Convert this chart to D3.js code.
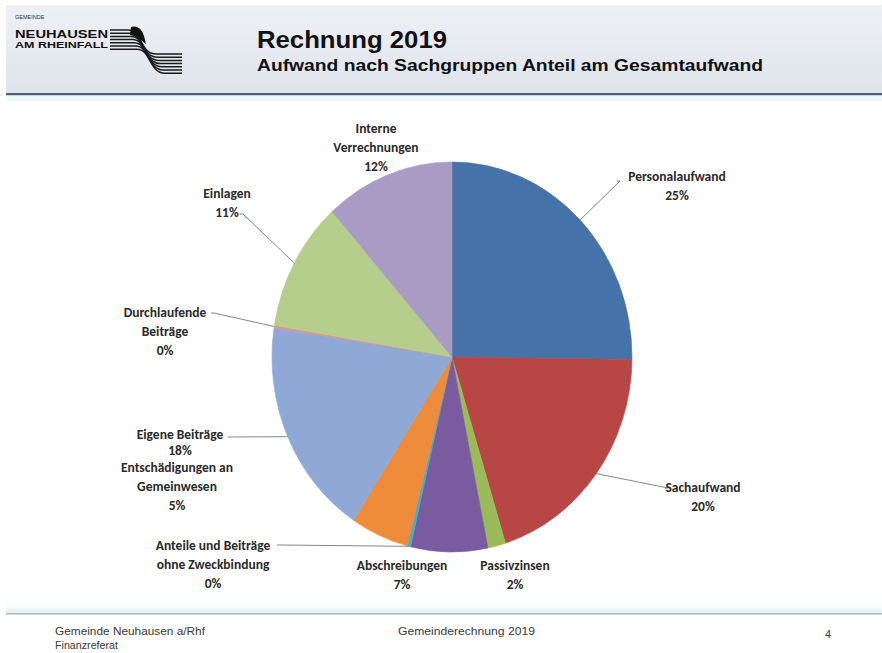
<!DOCTYPE html>
<html><head><meta charset="utf-8">
<script src="https://cdn.jsdelivr.net/npm/d3@7"></script>
<style>
html,body{margin:0;padding:0;background:#fff;}
svg{display:block;}
</style>
</head><body>
<script>
// ---- data ----
const categories = [
  "Personalaufwand",
  "Sachaufwand",
  "Passivzinsen",
  "Abschreibungen",
  "Anteile und Beiträge\nohne Zweckbindung",
  "Entschädigungen an\nGemeinwesen",
  "Eigene Beiträge",
  "Durchlaufende\nBeiträge",
  "Einlagen",
  "Interne\nVerrechnungen"
];
const shares = [25.2, 20.0, 1.6, 6.9, 0.3, 5.2, 18.2, 0.2, 10.8, 11.6];
const colors = ["#4672AA", "#B84644", "#9BBB59", "#7A5B9F", "#4BACC6", "#EF8C3C", "#8FA8D6", "#D99694", "#B6CE8B", "#A99BC4"];
const title = "Rechnung 2019";
const subtitle = "Aufwand nach Sachgruppen Anteil am Gesamtaufwand";
const footerLeft = ["Gemeinde Neuhausen a/Rhf", "Finanzreferat"];
const footerMid = "Gemeinderechnung 2019";
const pageNo = "4";

// ---- layout (positions of labels, not data) ----
const labelLayout = [
  {x: 677, y: 176, gap: 19, leader: [617, 181]},
  {x: 703, y: 487, gap: 19, leader: [665, 488]},
  {x: 515, y: 565, gap: 19},
  {x: 402, y: 565, gap: 19},
  {x: 213, y: 545, gap: 19, leader: [277, 545]},
  {x: 177, y: 467.5, gap: 19},
  {x: 180, y: 434, gap: 16, leader: [228, 437]},
  {x: 165, y: 312, gap: 19, leader: [211, 313]},
  {x: 227, y: 193, gap: 19, leader: [240, 214]},
  {x: 376, y: 128, gap: 19}
];

const W = 882, H = 653;
const svg = d3.select("body").append("svg").attr("width", W).attr("height", H);
const defs = svg.append("defs");
const hg = defs.append("linearGradient").attr("id","hdr").attr("x1",0).attr("y1",0).attr("x2",0).attr("y2",1);
hg.append("stop").attr("offset","0%").attr("stop-color","#eef0f4");
hg.append("stop").attr("offset","100%").attr("stop-color","#dfe4ec");
const fg = defs.append("linearGradient").attr("id","ftr").attr("x1",0).attr("y1",0).attr("x2",0).attr("y2",1);
fg.append("stop").attr("offset","0%").attr("stop-color","#ffffff");
fg.append("stop").attr("offset","100%").attr("stop-color","#e6eef6");

// header band
svg.append("rect").attr("x",6).attr("y",5).attr("width",W-6).attr("height",88).attr("fill","url(#hdr)");
svg.append("rect").attr("x",6).attr("y",93).attr("width",W-6).attr("height",2.5).attr("fill","#4d6477");
svg.append("rect").attr("x",6).attr("y",95.5).attr("width",W-6).attr("height",5).attr("fill","#eafafa");

// logo
const logo = svg.append("g");
logo.append("text").attr("x",15).attr("y",19).attr("font-family","Liberation Sans, Arial, sans-serif")
  .attr("font-size",5.5).attr("fill","#333").text("GEMEINDE");
logo.append("text").attr("x",15).attr("y",37.5).attr("font-family","Liberation Sans, Arial, sans-serif")
  .attr("font-weight","bold").attr("font-size",11).attr("fill","#111").attr("textLength",93).attr("lengthAdjust","spacingAndGlyphs").text("NEUHAUSEN");
logo.append("text").attr("x",15).attr("y",48).attr("font-family","Liberation Sans, Arial, sans-serif")
  .attr("font-weight","bold").attr("font-size",9).attr("fill","#111").attr("textLength",93).attr("lengthAdjust","spacingAndGlyphs").text("AM RHEINFALL");
for (let i = 0; i < 7; i++) {
  const y0 = 30 + i * 3.2;
  logo.append("path")
    .attr("d", `M110,${y0} H${128 + i*1.5} C${142 + i*1.5},${y0} ${140 + i*1.5},${y0 + 24} ${156 + i*1.5},${y0 + 24} H182`)
    .attr("fill","none").attr("stroke","#1b1b1b").attr("stroke-width",1.5);
}
logo.append("path").attr("d","M131,27 C137,25 142,29 144,36 L146,44 C141,40 136,36 130,35 Z").attr("fill","#111");

// titles
svg.append("text").attr("x",257).attr("y",48).attr("font-family","Liberation Sans, Arial, sans-serif")
  .attr("font-weight","bold").attr("font-size",23).attr("fill","#111")
  .attr("textLength",190).attr("lengthAdjust","spacingAndGlyphs").text(title);
svg.append("text").attr("x",257).attr("y",71).attr("font-family","Liberation Sans, Arial, sans-serif")
  .attr("font-weight","bold").attr("font-size",16).attr("fill","#111").attr("textLength",506).attr("lengthAdjust","spacingAndGlyphs").text(subtitle);

// pie
const cx = 452, cy = 357, r = 180, yScale = 195 / 180;
const pie = d3.pie().sort(null).value(d => d.v);
const data = categories.map((c, i) => ({name: c, v: shares[i], color: colors[i], lay: labelLayout[i]}));
const arcs = pie(data);
const arc = d3.arc().innerRadius(0).outerRadius(r);
const pg = svg.append("g").attr("transform", `translate(${cx},${cy}) scale(1,${yScale})`);
pg.selectAll("path").data(arcs).enter().append("path")
  .attr("d", arc).attr("fill", d => d.data.color)
  .attr("stroke", d => d.data.color).attr("stroke-width", 0.6);

// leaders
const fmt = d3.format(".0f");
arcs.forEach(a => {
  const L = a.data.lay;
  if (L.leader) {
    const mid = (a.startAngle + a.endAngle) / 2;
    const ex = cx + r * Math.sin(mid), ey = cy - r * yScale * Math.cos(mid);
    svg.append("path").attr("d", `M${L.leader[0]},${L.leader[1]} L${L.leader[0]+3},${L.leader[1]} L${ex},${ey}`)
      .attr("fill","none").attr("stroke","#777").attr("stroke-width",0.9);
  }
});
// labels
arcs.forEach(a => {
  const L = a.data.lay;
  const lines = a.data.name.split("\n").concat([fmt(a.data.v) + "%"]);
  const t = svg.append("text").attr("text-anchor","middle")
    .attr("font-family","Carlito, Lato, 'Open Sans', sans-serif").attr("font-weight","bold")
    .attr("font-size",13.5).attr("fill","#2a2a2a");
  lines.forEach((ln, k) => {
    t.append("tspan").attr("x", L.x).attr("y", L.y + 4.5 + k * L.gap).text(ln);
  });
});

// footer
svg.append("rect").attr("x",6).attr("y",603).attr("width",W-6).attr("height",10).attr("fill","url(#ftr)");
svg.append("rect").attr("x",6).attr("y",613).attr("width",W-6).attr("height",1.5).attr("fill","#a9b8c6");
const ff = "'Liberation Sans Narrow', 'Arial Narrow', 'Liberation Sans', sans-serif";
const footTexts = [
  {x: 55, y: 635, s: footerLeft[0], w: 150},
  {x: 55, y: 649, s: footerLeft[1], w: 63},
  {x: 398, y: 635, s: footerMid, w: 137},
  {x: 825, y: 638, s: pageNo, w: null}
];
footTexts.forEach(f => {
  const t = svg.append("text").attr("x",f.x).attr("y",f.y).attr("font-family",ff).attr("font-size",11)
    .attr("fill","#3a3a3a").text(f.s);
  if (f.w) t.attr("textLength", f.w).attr("lengthAdjust","spacingAndGlyphs");
});
</script>
</body></html>
